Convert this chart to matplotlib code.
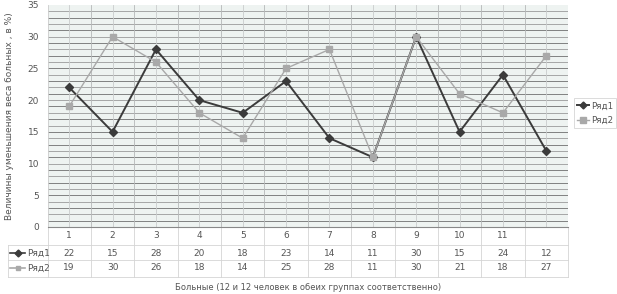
import numpy as np
import matplotlib
matplotlib.use('Agg')
from matplotlib import pyplot as plt
from matplotlib.lines import Line2D

# data
categories = ['1', '2', '3', '4', '5', '6', '7', '8', '9', '10', '11', '']
row1 = [22, 15, 28, 20, 18, 23, 14, 11, 30, 15, 24, 12]
row2 = [19, 30, 26, 18, 14, 25, 28, 11, 30, 21, 18, 27]
names = ['Ряд1', 'Ряд2']

c1 = '#3b3b3b'
c2 = '#a9a9a9'
txt = '#555555'

fig = plt.figure(figsize=(6.17, 2.94), dpi=100)
W, H = 617, 294
left, right, top, bottom = 47.5, 568, 5, 227
ax = fig.add_axes([left / W, 1 - bottom / H, (right - left) / W, (bottom - top) / H])
ax.set_facecolor('#eef3f1')

x = np.arange(len(categories))
ax.set_xlim(-0.5, len(categories) - 0.5)
ax.set_ylim(0, 35)

# grid, scanned-paper look
for v in range(1, 35):
    ax.axhline(v, color='#6f6f6f' if v % 2 else '#9a9a9a', lw=0.6, zorder=0)
for i in x:
    ax.axvline(i, color='#c9cccc', lw=0.6, zorder=0)
    ax.axvline(i + 0.5, color='#b5b8b8', lw=0.6, zorder=0)

ax.plot(x, row1, color=c1, lw=1.4, marker='D', ms=4, label=names[0], zorder=3)
ax.plot(x, row2, color=c2, lw=1.0, marker='s', ms=4.5, label=names[1], zorder=4)

ax.set_yticks(range(0, 36, 5))
ax.tick_params(axis='y', length=0, labelsize=6.5, labelcolor=txt, pad=6)
ax.set_xticks([])
for s in ['top', 'right']:
    ax.spines[s].set_visible(False)
ax.spines['left'].set_color('#cccccc')
ax.spines['bottom'].set_color('#888888')
ax.spines['left'].set_linewidth(0.6)

ax.set_ylabel('Величины уменьшения веса больных , в %)', fontsize=6.5, color=txt, labelpad=10)

# data table under the plot
tr = ax.get_xaxis_transform()
ph = bottom - top
def yf(px):
    return (bottom - px) / ph
lc = '#d4d4d4'
for i in range(len(categories) + 1):
    ax.plot([i - 0.5, i - 0.5], [0, yf(277)], transform=tr, color=lc, lw=0.6, clip_on=False)
for py in [245, 260, 277]:
    ax.plot([-0.5, len(categories) - 0.5], [yf(py), yf(py)], transform=tr, color=lc, lw=0.6, clip_on=False)
for i, c in enumerate(categories):
    ax.text(i, yf(236), c, transform=tr, ha='center', va='center', fontsize=6.5, color=txt)
    ax.text(i, yf(253), str(row1[i]), transform=tr, ha='center', va='center', fontsize=6.5, color=txt)
    ax.text(i, yf(268), str(row2[i]), transform=tr, ha='center', va='center', fontsize=6.5, color=txt)

# legend keys in the table rows
ax_x = lambda px: (px - left) / (right - left) * len(categories) - 0.5
for py in [245, 260, 277]:
    ax.plot([ax_x(8), ax_x(left)], [yf(py), yf(py)], transform=tr, color=lc, lw=0.6, clip_on=False)
ax.plot([ax_x(8), ax_x(8)], [yf(245), yf(277)], transform=tr, color=lc, lw=0.6, clip_on=False)
for py, col, mk, nm in [(253, c1, 'D', names[0]), (268, c2, 's', names[1])]:
    ax.plot([ax_x(10), ax_x(25)], [yf(py), yf(py)], transform=tr, color=col, lw=1.2, clip_on=False)
    ax.plot([ax_x(17.5)], [yf(py)], transform=tr, color=col, marker=mk, ms=3.5, clip_on=False)
    ax.text(ax_x(27), yf(py), nm, transform=tr, ha='left', va='center', fontsize=6.5, color=txt)

fig.text(308 / W, 1 - 287 / H, 'Больные (12 и 12 человек в обеих группах соответственно)',
         ha='center', va='center', fontsize=6, color=txt)

handles = [Line2D([], [], color=c1, lw=1.4, marker='D', ms=3.5),
           Line2D([], [], color=c2, lw=1.0, marker='s', ms=4)]
leg = fig.legend(handles, names, loc='center right', bbox_to_anchor=(616 / W, 1 - 113 / H),
                 fontsize=6.3, frameon=True, handlelength=1.3, borderpad=0.35, labelspacing=0.6,
                 handletextpad=0.25, borderaxespad=0, fancybox=False)
leg.get_frame().set_edgecolor('#cccccc')
leg.get_frame().set_linewidth(0.6)
for t in leg.get_texts():
    t.set_color(txt)

fig.savefig('out.png', dpi=100)
